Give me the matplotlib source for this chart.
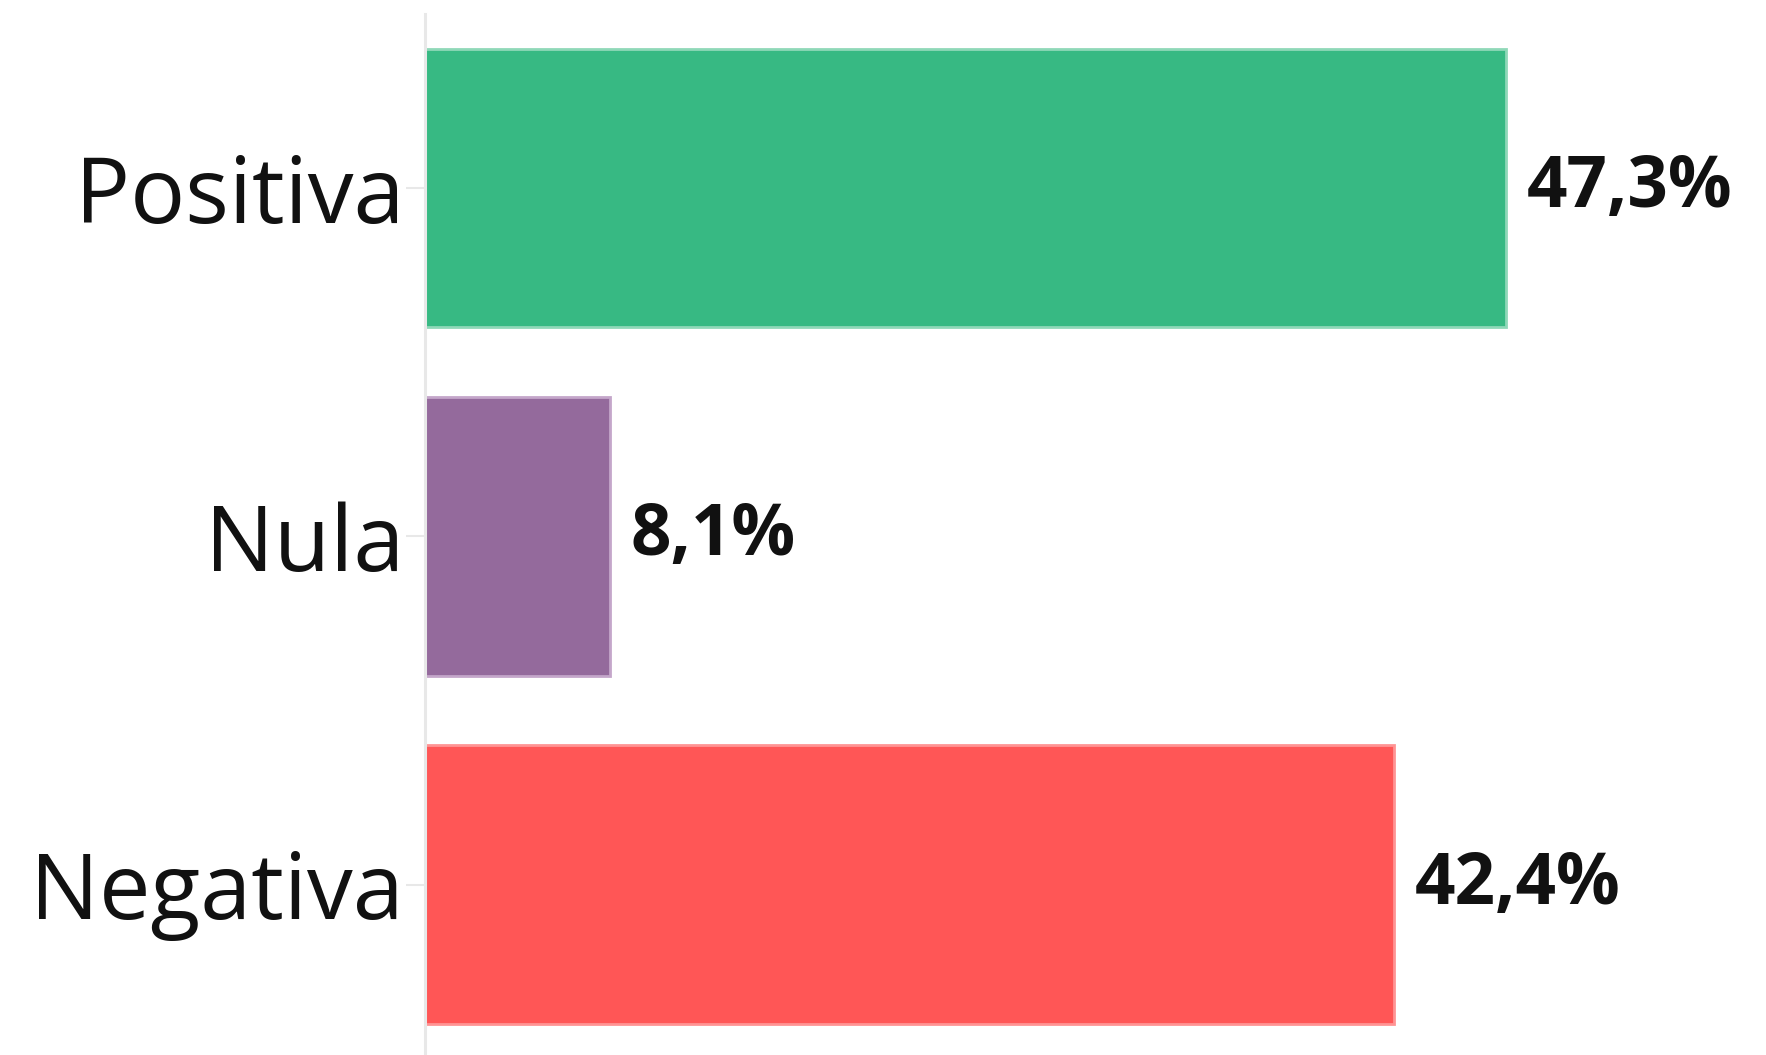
import matplotlib
matplotlib.use("Agg")
import matplotlib.pyplot as plt

# Sentiment shares (%)
categories = ["Positiva", "Nula", "Negativa"]
shares = [47.3, 8.1, 42.4]
labels = ["47,3%", "8,1%", "42,4%"]
colors = ["#37b983", "#946a9c", "#ff5656"]
edge_colors = ["#8fd8b8", "#c4a6ca", "#ff9494"]

plt.rcParams["font.family"] = ["Open Sans", "DejaVu Sans"]

fig = plt.figure(figsize=(17.66, 10.55), dpi=100)
ax = fig.add_axes([0.2407, -0.0035, 0.7593, 0.9902])

ypos = range(len(categories))
ax.barh(ypos, shares, height=0.8, color=colors, edgecolor=edge_colors, linewidth=2)

for y, v, txt in zip(ypos, shares, labels):
    ax.annotate(txt, (v, y), xytext=(15, 0), textcoords="offset points",
                va="center", ha="left", fontsize=51, fontweight="bold",
                color="#111111")

ax.set_yticks(list(ypos))
ax.set_yticklabels(categories, fontsize=66, color="#111111")
ax.set_ylim(2.5, -0.5)
ax.set_xlim(0, 58.7)
ax.set_xticks([])

for side in ["top", "right", "bottom"]:
    ax.spines[side].set_visible(False)
ax.spines["left"].set_color("#e8e8e8")
ax.spines["left"].set_linewidth(2.2)
ax.tick_params(axis="y", length=14, width=1.5, color="#e8e8e8", pad=1)

fig.savefig("out.png", dpi=100)
